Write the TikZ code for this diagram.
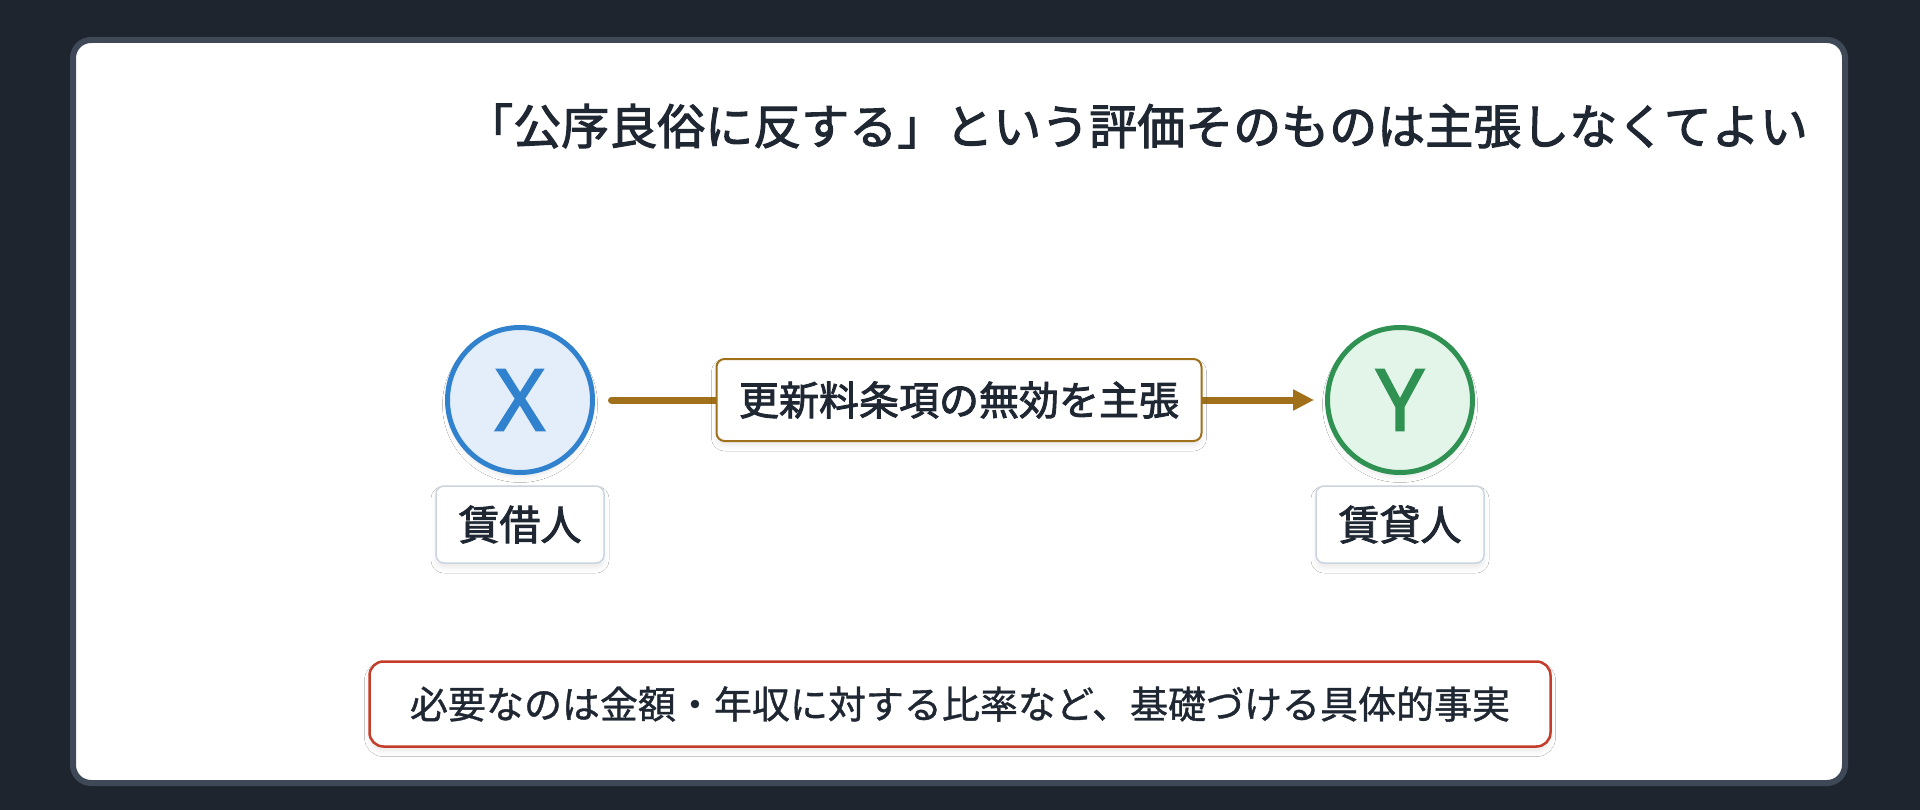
\documentclass[tikz,border=0pt]{standalone}
\usepackage{fontspec}
\setmainfont{Noto Sans CJK JP}
\newfontfamily\cjkmed[FakeBold=2.2]{Noto Sans CJK JP}
\newfontfamily\cjklight[FakeBold=1.0]{Noto Sans CJK JP}
\newfontfamily\latinfont[FakeBold=1.6]{Noto Sans}
\usetikzlibrary{arrows.meta,shadows.blur}
\definecolor{bg}{HTML}{1E252F}
\definecolor{cardbd}{HTML}{3E4857}
\definecolor{ink}{HTML}{1F2733}
\definecolor{bluebd}{HTML}{3182CE}
\definecolor{bluefill}{HTML}{E4EEFA}
\definecolor{greenbd}{HTML}{2F9152}
\definecolor{greenfill}{HTML}{E3F5E8}
\definecolor{gold}{HTML}{A0711A}
\definecolor{redbd}{HTML}{C53D2A}
\definecolor{graybd}{HTML}{CBD5E0}
\tikzset{
  softshadow/.style={blur shadow={shadow xshift=0pt,shadow yshift=-5pt,shadow blur radius=5pt,shadow opacity=8}},
  person/.style={circle, minimum size=145pt, line width=5pt, inner sep=0pt, softshadow,
    font=\latinfont\fontsize{86}{86}\selectfont},
  namebox/.style={draw=graybd, line width=1.5pt, rounded corners=8pt, fill=white,
    minimum width=168pt, minimum height=77pt, inner sep=0pt, text=ink, softshadow,
    font=\cjkmed\fontsize{41}{48}\selectfont},
  claimbox/.style={draw=gold, line width=2pt, rounded corners=8pt, fill=white,
    minimum width=485pt, minimum height=82pt, inner sep=0pt, text=ink, softshadow,
    font=\cjkmed\fontsize{40}{48}\selectfont},
  notebox/.style={draw=redbd, line width=2.5pt, rounded corners=14pt, fill=white,
    minimum width=1181pt, minimum height=85pt, inner sep=0pt, text=ink, softshadow,
    font=\cjklight\fontsize{38}{46}\selectfont},
  arrowline/.style={draw=gold, line width=7pt, line cap=round,
    -{Triangle[length=21pt,width=20pt]}, shorten <=16.5pt, shorten >=11pt},
}
\begin{document}
\begin{tikzpicture}[x=1pt,y=-1pt]
\useasboundingbox (0,0) rectangle (1920,810);
\fill[bg] (0,0) rectangle (1920,810);
\draw[cardbd, line width=6pt, fill=white, rounded corners=18pt] (73,40) rectangle (1845,783);
\node[anchor=east, text=ink, font=\cjkmed\fontsize{48}{56}\selectfont, inner sep=0pt] (title) at (1808,126)
  {「公序良俗に反する」という評価そのものは主張しなくてよい};
\node[person, draw=bluebd, fill=bluefill, text=bluebd] (X) at (520,400) {X};
\node[person, draw=greenbd, fill=greenfill, text=greenbd] (Y) at (1400,400) {Y};
\node[namebox] (xname) at (520,524.5) {賃借人};
\node[namebox] (yname) at (1400,524.5) {賃貸人};
\draw[arrowline] (X) -- (Y);
\node[claimbox] (claim) at (959,400) {更新料条項の無効を主張};
\node[notebox] (note) at (960,704) {必要なのは金額・年収に対する比率など、基礎づける具体的事実};
\end{tikzpicture}
\end{document}
